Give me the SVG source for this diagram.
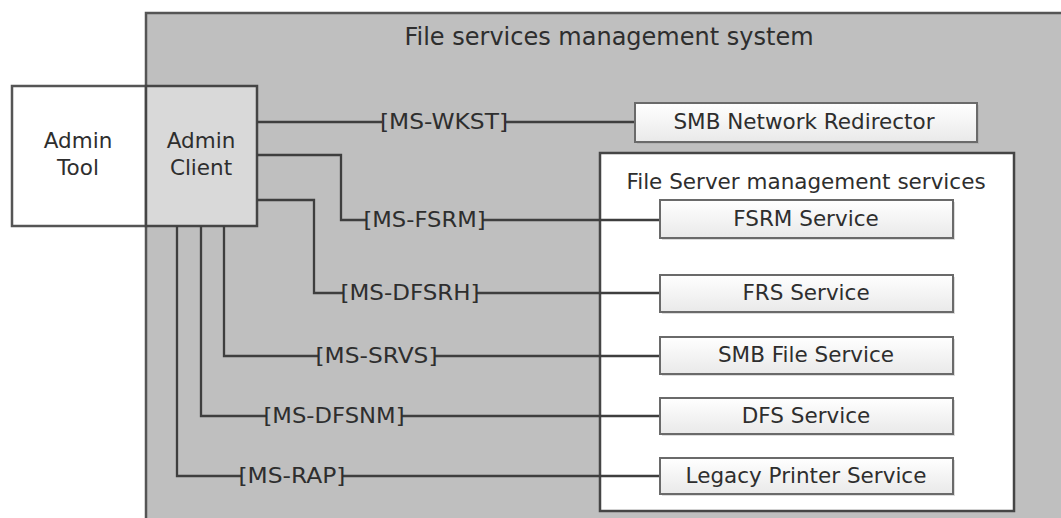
<svg xmlns="http://www.w3.org/2000/svg" width="1061" height="518" viewBox="0 0 1061 518">
  <defs>
    <linearGradient id="svcGrad" x1="0" y1="0" x2="0" y2="1">
      <stop offset="0" stop-color="#ffffff"/>
      <stop offset="1" stop-color="#e9e9e9"/>
    </linearGradient>
    <style>
      text { font-family: "DejaVu Sans", Verdana, sans-serif; fill: #2e2e2e; }
      .t { font-size: 21.5px; text-anchor: middle; }
      .title { font-size: 24px; text-anchor: middle; }
      .lbl { font-size: 21.5px; text-anchor: middle; }
      .svc { fill: url(#svcGrad); stroke: #6a6a6a; stroke-width: 2; }
      .shadow { fill: #9a9a9a; opacity: 0.35; }
      .conn { fill: none; stroke: #3e3e3e; stroke-width: 2.3; }
    </style>
  </defs>

  <rect width="1061" height="518" fill="#ffffff"/>

  <g id="container">
    <rect x="146" y="13" width="1000" height="600" fill="#bfbfbf" stroke="#555555" stroke-width="2.5"/>
    <text class="title" x="609" y="45">File services management system</text>
  </g>

  <g id="fileServerGroup">
    <rect x="600" y="153" width="414" height="358" fill="#ffffff" stroke="#454545" stroke-width="2.5"/>
    <text class="t" x="806" y="189">File Server management services</text>
  </g>

  <g id="adminTool">
    <rect x="12" y="86" width="134" height="140" fill="#ffffff" stroke="#555555" stroke-width="2.5"/>
    <text class="t" x="78" y="148">Admin</text>
    <text class="t" x="78" y="175">Tool</text>
  </g>

  <g id="adminClient">
    <rect x="146" y="86" width="111" height="140" fill="#d9d9d9" stroke="#454545" stroke-width="2.5"/>
    <text class="t" x="201" y="148">Admin</text>
    <text class="t" x="201" y="175">Client</text>
  </g>

  <g id="connectors">
    <polyline class="conn" points="257,122 382,122"/>
    <polyline class="conn" points="506,122 635,122"/>
    <polyline class="conn" points="257,155 341,155 341,220 366,220"/>
    <polyline class="conn" points="483,220 660,220"/>
    <polyline class="conn" points="257,200 314,200 314,293 343,293"/>
    <polyline class="conn" points="477,293 660,293"/>
    <polyline class="conn" points="224,226 224,356 318,356"/>
    <polyline class="conn" points="435,356 660,356"/>
    <polyline class="conn" points="201,226 201,416 266,416"/>
    <polyline class="conn" points="402,416 660,416"/>
    <polyline class="conn" points="177,226 177,476 241,476"/>
    <polyline class="conn" points="343,476 660,476"/>
    <text class="lbl" x="444" y="129" textLength="128" lengthAdjust="spacingAndGlyphs">[MS-WKST]</text>
    <text class="lbl" x="424.5" y="227" textLength="122" lengthAdjust="spacingAndGlyphs">[MS-FSRM]</text>
    <text class="lbl" x="410" y="300" textLength="139" lengthAdjust="spacingAndGlyphs">[MS-DFSRH]</text>
    <text class="lbl" x="376.5" y="363" textLength="122" lengthAdjust="spacingAndGlyphs">[MS-SRVS]</text>
    <text class="lbl" x="334" y="423" textLength="141" lengthAdjust="spacingAndGlyphs">[MS-DFSNM]</text>
    <text class="lbl" x="292" y="483" textLength="107" lengthAdjust="spacingAndGlyphs">[MS-RAP]</text>
  </g>

  <g id="smbNetworkRedirector">
    <rect class="shadow" x="637" y="105" width="342" height="39"/>
    <rect class="svc" x="635" y="103" width="342" height="39"/>
    <text class="t" x="804" y="129">SMB Network Redirector</text>
  </g>

  <g id="fsrmService">
    <rect class="shadow" x="662" y="202" width="293" height="38"/>
    <rect class="svc" x="660" y="200" width="293" height="38"/>
    <text class="t" x="806" y="226">FSRM Service</text>
  </g>

  <g id="frsService">
    <rect class="shadow" x="662" y="277" width="293" height="37"/>
    <rect class="svc" x="660" y="275" width="293" height="37"/>
    <text class="t" x="806" y="300">FRS Service</text>
  </g>

  <g id="smbFileService">
    <rect class="shadow" x="662" y="339" width="293" height="37"/>
    <rect class="svc" x="660" y="337" width="293" height="37"/>
    <text class="t" x="806" y="362">SMB File Service</text>
  </g>

  <g id="dfsService">
    <rect class="shadow" x="662" y="400" width="293" height="36"/>
    <rect class="svc" x="660" y="398" width="293" height="36"/>
    <text class="t" x="806" y="423">DFS Service</text>
  </g>

  <g id="legacyPrinterService">
    <rect class="shadow" x="662" y="460" width="293" height="36"/>
    <rect class="svc" x="660" y="458" width="293" height="36"/>
    <text class="t" x="806" y="483">Legacy Printer Service</text>
  </g>
</svg>
